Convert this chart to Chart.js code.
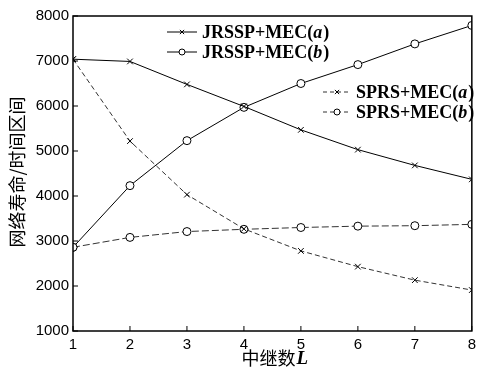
<!DOCTYPE html>
<html>
<head>
<meta charset="utf-8">
<script src="https://cdn.jsdelivr.net/npm/chart.js"></script>
<style>
  body { margin: 0; background: #fff; }
  #wrap { width: 481px; height: 369px; position: relative; }
</style>
</head>
<body>
<div id="wrap"><canvas id="lifetime"></canvas></div>
<script>
// relay count L on the x axis
const relays = [1, 2, 3, 4, 5, 6, 7, 8];
const yTicks = [1000, 2000, 3000, 4000, 5000, 6000, 7000, 8000];

// network lifetime (time slots)
const jrsspA = [7040, 6990, 6480, 5990, 5470, 5030, 4680, 4370];
const jrsspB = [2860, 4230, 5230, 5970, 6500, 6920, 7380, 7790];
const sprsA = [7040, 5220, 4030, 3270, 2780, 2430, 2130, 1910];
const sprsB = [2860, 3080, 3210, 3260, 3300, 3330, 3340, 3370];

const seriesNames = ["JRSSP+MEC", "JRSSP+MEC", "SPRS+MEC", "SPRS+MEC"];
const seriesTags = ["a", "b", "a", "b"];

function makeSet(i, values, style, dash) {
  return {
    label: seriesNames[i] + "(" + seriesTags[i] + ")",
    data: values,
    borderColor: dash.length ? "#333" : "#000",
    borderWidth: 1,
    borderDash: dash,
    pointStyle: style,
    pointRadius: 4,
    pointBorderWidth: 1,
    pointBorderColor: "#000",
    pointBackgroundColor: "#fff",
    tension: 0,
  };
}

// legend boxes: [left of sample line, y of first row, dataset indexes]
const legendBoxes = [
  { x: 167, y: 32, rows: [0, 1], sample: 30 },
  { x: 323, y: 92, rows: [2, 3], sample: 28 },
];

const figureExtras = {
  id: "figureExtras",
  afterDraw(chart) {
    const ctx = chart.ctx;
    const a = chart.chartArea;
    const xs = chart.scales.x;
    const ys = chart.scales.y;
    ctx.save();

    // frame
    ctx.strokeStyle = "#000";
    ctx.lineWidth = 1.5;
    ctx.setLineDash([]);
    ctx.strokeRect(a.left, a.top, a.right - a.left, a.bottom - a.top);

    // inward ticks
    ctx.lineWidth = 1;
    ctx.beginPath();
    xs.ticks.forEach((t, i) => {
      const px = xs.getPixelForTick(i);
      ctx.moveTo(px, a.bottom);
      ctx.lineTo(px, a.bottom - 5);
    });
    ys.ticks.forEach((t, i) => {
      const py = ys.getPixelForTick(i);
      ctx.moveTo(a.left, py);
      ctx.lineTo(a.left + 5, py);
    });
    ctx.stroke();

    // legends
    ctx.textBaseline = "middle";
    legendBoxes.forEach((box) => {
      box.rows.forEach((di, r) => {
        const ds = chart.data.datasets[di];
        const y = box.y + r * 20;
        ctx.strokeStyle = ds.borderColor;
        ctx.lineWidth = 1;
        ctx.setLineDash(ds.borderDash.length ? [4, 3] : []);
        ctx.beginPath();
        ctx.moveTo(box.x, y);
        ctx.lineTo(box.x + box.sample, y);
        ctx.stroke();
        ctx.setLineDash([]);
        ctx.fillStyle = "#fff";
        ctx.strokeStyle = "#000";
        Chart.helpers.drawPoint(ctx, {
          pointStyle: ds.pointStyle,
          radius: 3,
          borderWidth: 1,
        }, box.x + box.sample / 2, y);
        ctx.fillStyle = "#000";
        let tx = box.x + box.sample + 5;
        const parts = [
          [seriesNames[di] + "(", "bold 18px 'Liberation Serif'"],
          [seriesTags[di], "italic bold 18px 'Liberation Serif'"],
          [")", "bold 18px 'Liberation Serif'"],
        ];
        parts.forEach(([s, f]) => {
          ctx.font = f;
          ctx.textAlign = "left";
          ctx.fillText(s, tx, y + 1);
          tx += ctx.measureText(s).width + (s === seriesTags[di] ? 1 : 0);
        });
      });
    });

    // axis titles
    ctx.fillStyle = "#000";
    ctx.font = "18px 'Noto Sans CJK SC'";
    const xt = "中继数";
    const xw = ctx.measureText(xt).width;
    ctx.font = "italic bold 19px 'Liberation Serif'";
    const lw = ctx.measureText("L").width;
    let sx = (a.left + a.right) / 2 - (xw + lw) / 2 + 2;
    ctx.textAlign = "left";
    ctx.textBaseline = "middle";
    ctx.font = "18px 'Noto Sans CJK SC'";
    ctx.fillText(xt, sx, 358);
    ctx.font = "italic bold 19px 'Liberation Serif'";
    ctx.fillText("L", sx + xw + 1, 359);

    ctx.translate(17, 172);
    ctx.rotate(-Math.PI / 2);
    ctx.textAlign = "center";
    ctx.font = "18px 'Noto Sans CJK SC'";
    ctx.fillText("网络寿命/时间区间", 0, 0);
    ctx.restore();
  },
};

new Chart(document.getElementById("lifetime"), {
  type: "line",
  data: {
    labels: relays,
    datasets: [
      makeSet(0, jrsspA, "crossRot", []),
      makeSet(1, jrsspB, "circle", []),
      makeSet(2, sprsA, "crossRot", [5, 3]),
      makeSet(3, sprsB, "circle", [7, 3]),
    ],
  },
  options: {
    responsive: true,
    maintainAspectRatio: false,
    animation: false,
    layout: { padding: { top: 16, right: 5, left: 0, bottom: 0 } },
    plugins: { legend: { display: false }, tooltip: { enabled: false } },
    scales: {
      x: {
        type: "linear",
        min: 1,
        max: 8,
        afterFit: (s) => { s.height = 38; },
        afterBuildTicks: (s) => { s.ticks = relays.map((v) => ({ value: v })); },
        grid: { display: false, drawTicks: false },
        border: { display: false },
        ticks: {
          padding: 5,
          color: "#000",
          font: { family: "'Liberation Sans'", size: 15 },
          callback: (v) => String(v),
        },
      },
      y: {
        min: 1000,
        max: 8000,
        afterFit: (s) => { s.width = 73; },
        afterBuildTicks: (s) => { s.ticks = yTicks.map((v) => ({ value: v })); },
        grid: { display: false, drawTicks: false },
        border: { display: false },
        ticks: {
          padding: 4,
          color: "#000",
          font: { family: "'Liberation Sans'", size: 15 },
          callback: (v) => String(v),
        },
      },
    },
  },
  plugins: [figureExtras],
});
</script>
</body>
</html>
